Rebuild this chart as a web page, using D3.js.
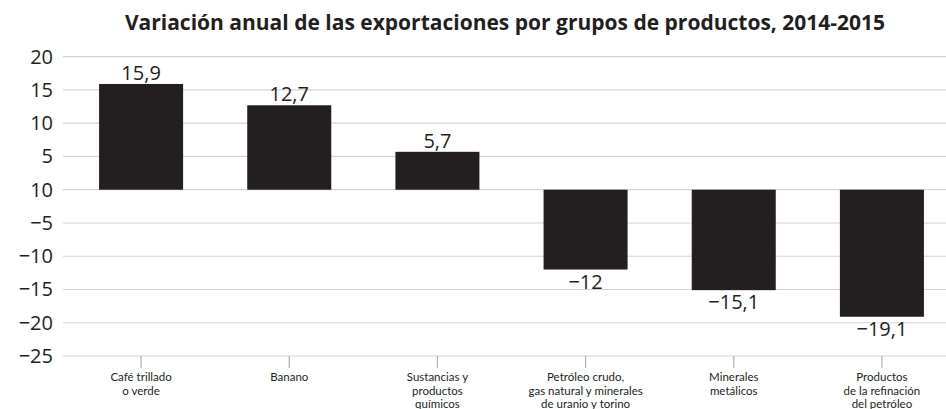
<!DOCTYPE html>
<html>
<head>
<meta charset="utf-8">
<script src="https://cdn.jsdelivr.net/npm/d3@7"></script>
<style>
  body { margin: 0; background: #fff; }
  text { fill: #231f20; }
</style>
</head>
<body>
<script>
// datos
var titleText = "Variación anual de las exportaciones por grupos de productos, 2014-2015";
var categories = [
    "Café trillado\no verde",
    "Banano",
    "Sustancias y\nproductos\nquímicos",
    "Petróleo crudo,\ngas natural y minerales\nde uranio y torino",
    "Minerales\nmetálicos",
    "Productos\nde la refinación\ndel petróleo"
];
var values = [15.9, 12.7, 5.7, -12, -15.1, -19.1];
var tickValues = [20, 15, 10, 5, 0, -5, -10, -15, -20, -25];
var tickLabels = ["20", "15", "10", "5", "10", "\u22125", "\u221210", "\u221215", "\u221220", "\u221225"];

var W = 946, H = 409;
var margin = {left: 63, right: 0, top: 56.7, bottom: 53};

var svg = d3.select("body").append("svg")
    .attr("width", W)
    .attr("height", H);

var x = d3.scaleBand()
    .domain(categories)
    .range([67, 956])
    .paddingInner(0.433)
    .paddingOuter(0.2165);

var y = d3.scaleLinear()
    .domain([-25, 20])
    .range([356, 56.7]);

// gridlines
svg.append("g")
    .selectAll("line")
    .data(tickValues)
    .enter().append("line")
    .attr("x1", margin.left)
    .attr("x2", W)
    .attr("y1", function(d) { return y(d); })
    .attr("y2", function(d) { return y(d); })
    .attr("stroke", "#d4d4d4")
    .attr("stroke-width", 1.2);

// y labels
var yAxis = d3.axisLeft(y)
    .tickValues(tickValues)
    .tickSize(0)
    .tickPadding(0)
    .tickFormat(function(d, i) { return tickLabels[i]; });

svg.append("g")
    .attr("transform", "translate(53,0)")
    .call(yAxis)
    .call(function(g) { g.select(".domain").remove(); })
    .selectAll("text")
    .style("font-family", "'Open Sans', sans-serif")
    .style("font-size", "20px")
    .attr("fill", "#231f20");

// x ticks
svg.append("g")
    .selectAll("line")
    .data(categories)
    .enter().append("line")
    .attr("x1", function(d) { return x(d) + x.bandwidth() / 2; })
    .attr("x2", function(d) { return x(d) + x.bandwidth() / 2; })
    .attr("y1", y(-25))
    .attr("y2", y(-25) + 12)
    .attr("stroke", "#b4b4bc")
    .attr("stroke-width", 1.3);

// bars
svg.append("g")
    .selectAll("rect")
    .data(values)
    .enter().append("rect")
    .attr("x", function(d, i) { return x(categories[i]); })
    .attr("width", x.bandwidth())
    .attr("y", function(d) { return y(Math.max(0, d)); })
    .attr("height", function(d) { return Math.abs(y(d) - y(0)); })
    .attr("fill", "#231f20");

// value labels
function fmt(v) {
    return (v < 0 ? "\u2212" : "") + String(Math.abs(v)).replace(".", ",");
}
svg.append("g")
    .selectAll("text")
    .data(values)
    .enter().append("text")
    .attr("x", function(d, i) { return x(categories[i]) + x.bandwidth() / 2; })
    .attr("y", function(d) { return d >= 0 ? y(d) - 4 : y(d) + 19; })
    .attr("text-anchor", "middle")
    .style("font-family", "'Open Sans', sans-serif")
    .style("font-size", "20px")
    .text(fmt);

// category labels
var cat = svg.append("g")
    .selectAll("text")
    .data(categories)
    .enter().append("text")
    .attr("text-anchor", "middle")
    .attr("transform", function(d) { return "translate(" + (x(d) + x.bandwidth() / 2) + ",381)"; })
    .style("font-family", "Lato, sans-serif")
    .style("font-size", "11.5px");
cat.selectAll("tspan")
    .data(function(d) { return d.split("\n"); })
    .enter().append("tspan")
    .attr("x", 0)
    .attr("y", function(d, i) { return i * 13.6; })
    .text(function(d) { return d; });

// title
svg.append("text")
    .attr("x", 505)
    .attr("y", 30)
    .attr("text-anchor", "middle")
    .style("font-family", "'Open Sans', sans-serif")
    .style("font-weight", "bold")
    .style("font-size", "21px")
    .text(titleText);
</script>
</body>
</html>
